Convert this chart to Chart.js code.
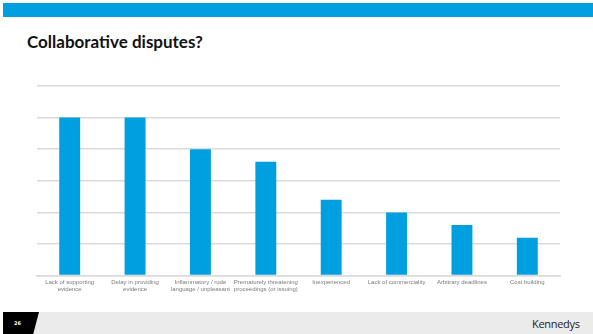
<!DOCTYPE html>
<html>
<head>
<meta charset="utf-8">
<script src="https://cdn.jsdelivr.net/npm/chart.js@4"></script>
<style>
  body { margin: 0; width: 593px; height: 334px; background: #fff; position: relative; overflow: hidden; font-family: "DejaVu Sans", sans-serif; }
  #topBand { position: absolute; left: 3px; top: 3px; width: 590px; height: 14px; background: #009fdf; }
  #title { position: absolute; left: 27px; top: 31px; font-size: 17px; font-weight: bold; color: #111; font-family: Lato, sans-serif; }
  #chartBox { position: absolute; left: 0; top: 78px; width: 593px; height: 218px; }
  #footer { position: absolute; left: 3px; top: 312px; width: 590px; height: 22px; background: #ebebeb; }
  #pageNo { position: absolute; left: 3px; top: 312px; width: 36px; height: 22px; background: #000; clip-path: polygon(0 0, 100% 0, 84% 100%, 0 100%); }
  #pageNo span { position: absolute; left: 11px; top: 8px; font-size: 5px; color: #fff; font-weight: bold; }
  #brand { position: absolute; left: 532px; top: 316px; font-size: 11px; color: #222; font-family: "Open Sans", sans-serif; letter-spacing: -0.3px; }
</style>
</head>
<body>
<div id="topBand"></div>
<div id="title">Collaborative disputes?</div>
<div id="chartBox"><canvas id="myChart"></canvas></div>
<div id="footer"></div>
<div id="pageNo"><span>26</span></div>
<div id="brand">Kennedys</div>
<script>
// Categories (two-line labels)
const labels = [
    ['Lack of supporting', 'evidence'],
    ['Delay in providing', 'evidence'],
    ['Inflammatory / rude', 'language / unpleasant'],
    ['Prematurely threatening', 'proceedings (or issuing)'],
    'Inexperienced',
    'Lack of commerciality',
    'Arbitrary deadlines',
    'Cost building'
];

// Values
const values = [25, 25, 20, 18, 12, 10, 8, 6];

const data = {
    labels: labels,
    datasets: [{
        data: values,
        backgroundColor: '#009fdf',
        barPercentage: 0.32,
        categoryPercentage: 1
    }]
};

const config = {
    type: 'bar',
    data: data,
    options: {
        responsive: true,
        maintainAspectRatio: false,
        animation: false,
        layout: {
            padding: { left: 37, right: 33, top: 8, bottom: 0 }
        },
        plugins: {
            legend: { display: false },
            tooltip: { enabled: false }
        },
        scales: {
            y: {
                min: 0,
                max: 30,
                ticks: { display: false, stepSize: 5 },
                grid: { color: '#dadada', lineWidth: 1.5, drawTicks: false },
                border: { display: false }
            },
            x: {
                grid: { display: false, drawTicks: false },
                border: { color: '#dadada', width: 1.5 },
                ticks: {
                    color: '#7a7a7a',
                    font: { size: 6, family: 'Liberation Sans' },
                    maxRotation: 0,
                    autoSkip: false,
                    padding: 3
                }
            }
        }
    }
};

const myChart = new Chart(document.getElementById('myChart'), config);
</script>
</body>
</html>
